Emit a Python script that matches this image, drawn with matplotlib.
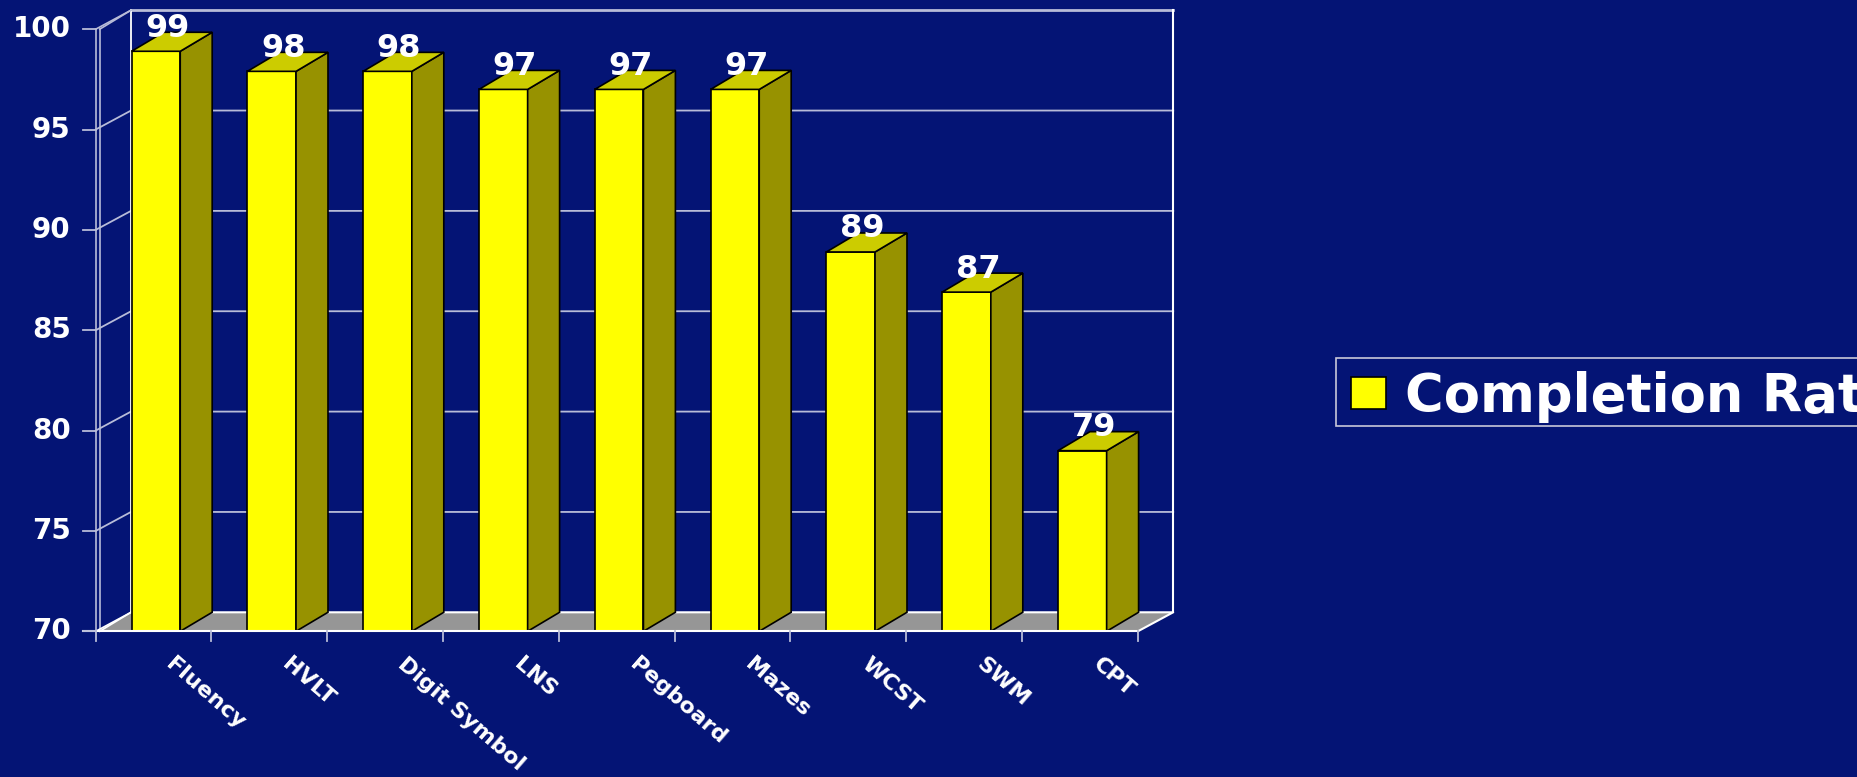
import matplotlib as mpl
mpl.use("Agg")
import matplotlib.pyplot as plt
from matplotlib.patches import Polygon, Patch, Rectangle
import numpy as np

plt.rcParams['font.family'] = ['DejaVu Sans']
plt.rcParams['font.weight'] = 'bold'

# data
tests = ["Fluency", "HVLT", "Digit Symbol", "LNS", "Pegboard",
         "Mazes", "WCST", "SWM", "CPT"]
completion = [98.9, 97.9, 97.9, 97.0, 97.0, 97.0, 88.9, 86.9, 79.0]
yticks = [70, 75, 80, 85, 90, 95, 100]
series_name = "Completion Rate"

navy = "#041475"
grid_c = "#b8bcd8"
front_c, side_c, top_c = "#FFFF00", "#979200", "#CCCC00"
floor_c = "#969696"

# fake 3d: depth offset of wall and bars (x in category units, y in value units)
wall_dx, bar_dx, depth_dy = 0.305, 0.276, 0.947
bar_w, bar_shift = 0.42, 0.02
ymin, ymax = 70, 100
n = len(tests)

W, H = 1858, 777
fig = plt.figure(figsize=(W / 100, H / 100), dpi=100, facecolor=navy)
ax = fig.add_axes([0, 0, 1, 1])
ax.set_facecolor(navy)
ax.axis("off")
ax.set_xlim(-1.3264, -1.3264 + W / 115.8)
ax.set_ylim(70 - 145.7 / 20.07, 70 + 631.3 / 20.07)

x0, x1 = -0.5, n - 0.5

# floor
ax.add_patch(Polygon([(x0, ymin), (x1, ymin), (x1 + wall_dx, ymin + depth_dy),
                      (x0 + wall_dx, ymin + depth_dy)],
                     closed=True, facecolor=floor_c, edgecolor="none", zorder=1))
ax.plot([x0 + wall_dx, x1 + wall_dx, x1], [ymin + depth_dy, ymin + depth_dy, ymin],
        color="white", lw=1.5, zorder=1.5)

# back wall grid + left wall diagonals
for v in yticks[1:-1]:
    ax.plot([x0, x0 + wall_dx, x1 + wall_dx], [v, v + depth_dy, v + depth_dy],
            color=grid_c, lw=1.3, zorder=1)
ax.plot([x0 + wall_dx, x1 + wall_dx], [ymax + depth_dy] * 2, color=grid_c, lw=2, zorder=1)
ax.plot([x1 + wall_dx] * 2, [ymin + depth_dy, ymax + depth_dy], color="white", lw=1.5, zorder=1)
ax.plot([x0 + wall_dx] * 2, [ymin + depth_dy, ymax + depth_dy], color="white", lw=1.3, zorder=1)
for off in (0, 0.035):
    ax.plot([x0 + off] * 2, [ymin, ymax], color=grid_c, lw=1.2, zorder=1)
    ax.plot([x0 + off, x0 + wall_dx], [ymax, ymax + depth_dy], color=grid_c, lw=1.2, zorder=1)
    ax.plot([x0 + off, x0 + wall_dx], [ymin, ymin + depth_dy], color="white", lw=1.2, zorder=1.5)

# front axis line and ticks
ax.plot([x0 - 0.11, x1], [ymin, ymin], color="white", lw=1.5, zorder=4)
for b in np.arange(x0, x1 + 0.01, 1.0):
    ax.plot([b, b], [ymin, ymin - 0.5], color=grid_c, lw=1.3, zorder=4)
for v in yticks:
    ax.plot([x0 - 0.11, x0], [v, v], color=grid_c, lw=1.3, zorder=4)
    ax.text(x0 - 0.216, v, str(v), ha="right", va="center", color="white",
            fontsize=20, fontweight="bold")

# bars
xs = np.arange(n) + bar_shift
ax.bar(xs, np.array(completion) - ymin, width=bar_w, bottom=ymin, color=front_c,
       edgecolor="black", linewidth=1.2, zorder=3)
for x, v in zip(xs, completion):
    r, l = x + bar_w / 2, x - bar_w / 2
    ax.add_patch(Polygon([(r, ymin), (r + bar_dx, ymin + depth_dy),
                          (r + bar_dx, v + depth_dy), (r, v)],
                         closed=True, facecolor=side_c, edgecolor="black", lw=1.2, zorder=3))
    ax.add_patch(Polygon([(l, v), (r, v), (r + bar_dx, v + depth_dy),
                          (l + bar_dx, v + depth_dy)],
                         closed=True, facecolor=top_c, edgecolor="black", lw=1.2, zorder=3))
    ax.text(x + 0.1, v + 1.15, f"{v:.0f}", ha="center", va="center", color="white",
            fontsize=23, fontweight="bold", zorder=5)

# category labels
for i, name in enumerate(tests):
    ax.text(i + 0.19, ymin - 1.15, name, rotation=-41, rotation_mode="anchor",
            ha="left", va="top", color="white", fontsize=16, fontweight="bold")

# legend (runs off the right edge like the original)
fig.patches.append(Rectangle((1335.6 / W, 1 - 426 / H), 0.3, 67.5 / H,
                             transform=fig.transFigure, facecolor=navy,
                             edgecolor="#c8c8d8", linewidth=1.2, zorder=0))
fig.legend(handles=[Patch(facecolor=front_c, edgecolor="black", linewidth=1.2)],
           labels=[series_name], loc="center left",
           bbox_to_anchor=(1351 / W, 1 - 397 / H), borderaxespad=0, borderpad=0,
           prop={"size": 38, "weight": "bold"}, labelcolor="white", frameon=False,
           handlelength=0.66, handleheight=0.55, handletextpad=0.36)

fig.savefig("out.png", dpi=100, facecolor=navy)
